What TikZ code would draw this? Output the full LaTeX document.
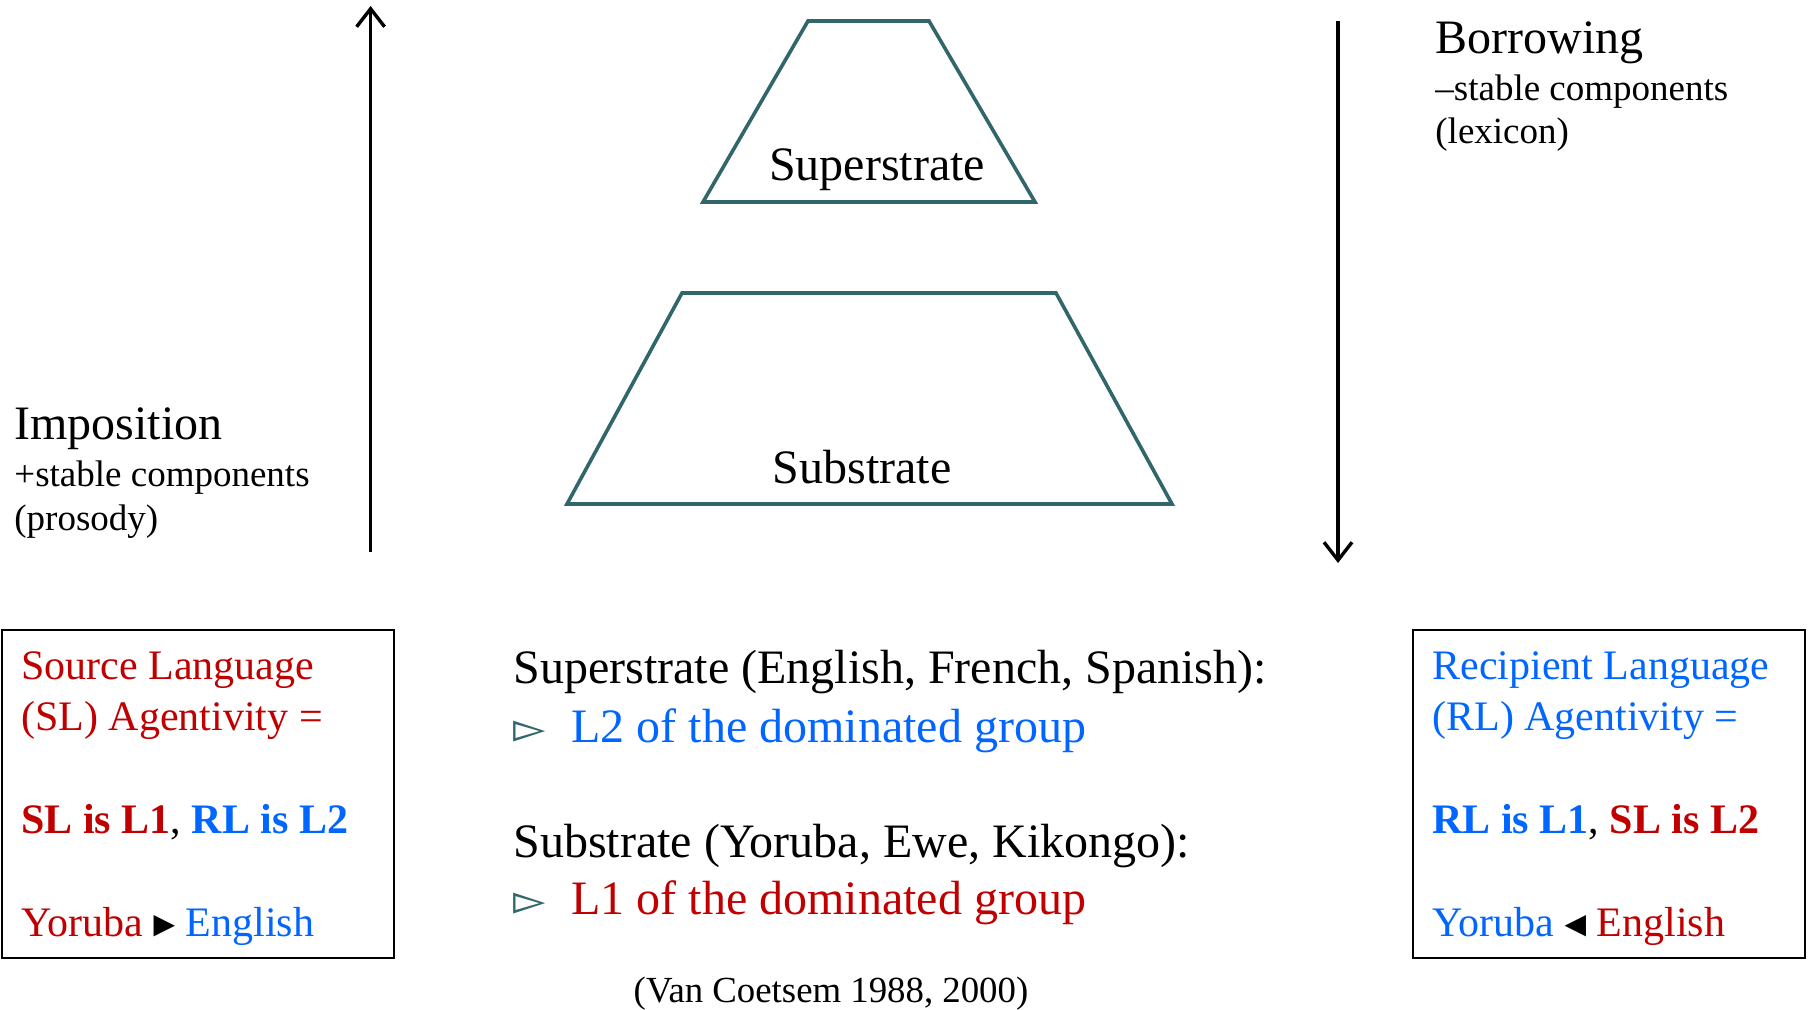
\documentclass[tikz,border=0pt]{standalone}
\usepackage{fontspec}
\setmainfont{Liberation Serif}
\newfontfamily\dejavu{DejaVu Sans}
\usetikzlibrary{arrows.meta}
\definecolor{myred}{HTML}{C00000}
\definecolor{myblue}{HTML}{0066FF}
\definecolor{myteal}{HTML}{31676A}
\newcommand\myfs[1]{\fontsize{#1pt}{#1pt}\selectfont}
\newcommand\rtri{{\dejavu\myfs{14}\raisebox{1.5pt}{▶}}}
\newcommand\ltri{{\dejavu\myfs{14}\raisebox{1.5pt}{◀}}}
\newcommand\ptr{{\dejavu\myfs{21}▻}}
\begin{document}
\begin{tikzpicture}[x=0.5pt,y=-0.5pt,
  txt/.style={inner sep=0pt, anchor=base west},
  trap/.style={draw=myteal, line width=1.8pt, line join=miter},
  arr/.style={line width=1.7pt, -{Straight Barb[length=9pt,width=14pt,line width=1.7pt]}},
  boxst/.style={draw=black, line width=1pt, anchor=north west, inner sep=0pt,
    minimum width=196pt, minimum height=164pt}]
\useasboundingbox (0,0) rectangle (1810,1009);

% trapezoids
\draw[trap] (808,21) -- (929,21) -- (1035,202) -- (703,202) -- cycle;
\draw[trap] (682,293) -- (1056,293) -- (1172,504) -- (567,504) -- cycle;
\node[inner sep=0pt, anchor=base] (sup) at (877,180) {\myfs{24}Superstrate};
\node[inner sep=0pt, anchor=base] (sub) at (862,483) {\myfs{24}Substrate};

% arrows
\coordinate (impBot) at (370.6,552);
\coordinate (impTop) at (370.6,6);
\coordinate (borTop) at (1338,21);
\coordinate (borBot) at (1338,563);
\draw[arr] (impBot) -- (impTop);
\draw[arr] (borTop) -- (borBot);

% side labels
\node[txt] (imp) at (14,439) {\myfs{24}Imposition};
\node[txt] (imp2) at (14,486) {\myfs{18.5}+stable components};
\node[txt] (imp3) at (14,530) {\myfs{18.5}(prosody)};
\node[txt] (bor) at (1435,53) {\myfs{24}Borrowing};
\node[txt] (bor2) at (1435,100) {\myfs{18.5}–stable components};
\node[txt] (bor3) at (1435,143) {\myfs{18.5}(lexicon)};

% boxes
\node[boxst] (lbox) at (1,629) {};
\node[boxst] (rbox) at (1412,629) {};

\node[txt, text=myred] (l1) at (21,679) {\myfs{21}Source Language};
\node[txt, text=myred] (l2) at (21,730) {\myfs{21}(SL) Agentivity =};
\node[txt] (l3) at (21,833) {\myfs{21}\textcolor{myred}{\textbf{SL is L1}}, \textcolor{myblue}{\textbf{RL is L2}}};
\node[txt] (l4) at (21,936) {\myfs{21}\textcolor{myred}{Yoruba} \rtri{} \textcolor{myblue}{English}};

\node[txt, text=myblue] (r1) at (1432,679) {\myfs{21}Recipient Language};
\node[txt, text=myblue] (r2) at (1432,730) {\myfs{21}(RL) Agentivity =};
\node[txt] (r3) at (1432,833) {\myfs{21}\textcolor{myblue}{\textbf{RL is L1}}, \textcolor{myred}{\textbf{SL is L2}}};
\node[txt] (r4) at (1432,936) {\myfs{21}\textcolor{myblue}{Yoruba} \ltri{} \textcolor{myred}{English}};

% center text
\node[txt] (c1) at (513,683) {\myfs{24}Superstrate (English, French, Spanish):};
\node[txt, text=myteal] (b1) at (513,742) {\ptr};
\node[txt, text=myblue] (c2) at (571,742) {\myfs{24}L2 of the dominated group};
\node[txt] (c3) at (513,857) {\myfs{24}Substrate (Yoruba, Ewe, Kikongo):};
\node[txt, text=myteal] (b2) at (513,914) {\ptr};
\node[txt, text=myred] (c4) at (571,914) {\myfs{24}L1 of the dominated group};

\node[inner sep=0pt, anchor=base] (cite) at (831,1002) {\myfs{18.4}(Van Coetsem 1988, 2000)};
\end{tikzpicture}
\end{document}
